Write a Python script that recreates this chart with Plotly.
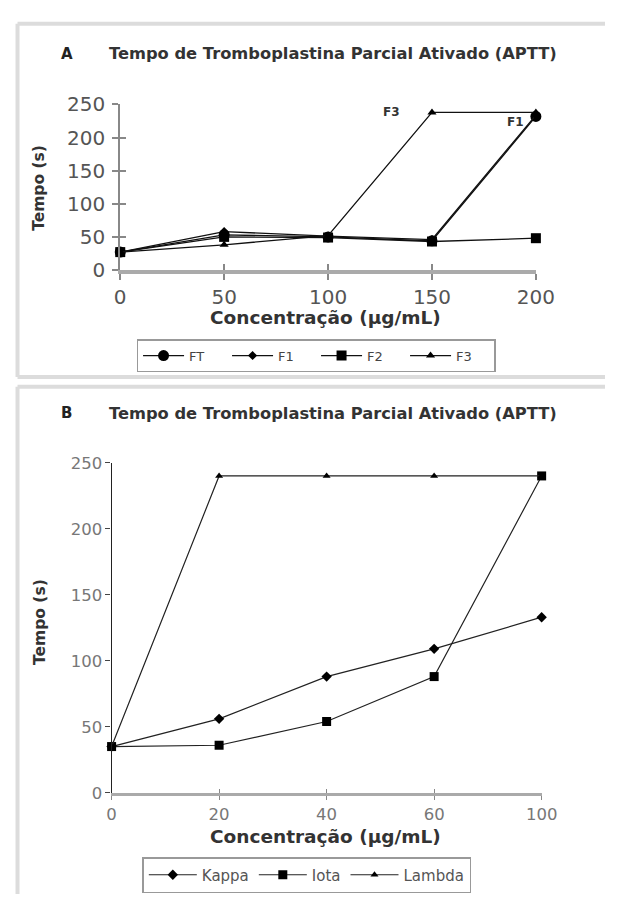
import plotly.graph_objects as go

# ---------------- data ----------------
conc_A = [0, 50, 100, 150, 200]
ft = [27, 53, 50, 44, 232]
f1 = [27, 58, 51, 46, 234]
f2 = [27, 50, 49, 43, 48]
f3 = [27, 38, 52, 238, 238]

conc_B = ["0", "20", "40", "60", "100"]
kappa = [35, 56, 88, 109, 133]
iota = [35, 36, 54, 88, 240]
lam = [35, 240, 240, 240, 240]

ticks_A_y = [0, 50, 100, 150, 200, 250]
ticks_A_x = [0, 50, 100, 150, 200]
ticks_B_y = [0, 50, 100, 150, 200, 250]

title_txt = "Tempo de Tromboplastina Parcial Ativado (APTT)"
xtitle_txt = "Concentração (µg/mL)"
ytitle_txt = "Tempo (s)"

W, H = 624, 906
FONT = "DejaVu Sans"


def px(x):
    return x / W


def py(y):
    return 1 - y / H


fig = go.Figure()

lineA = dict(color="#111", width=1.3)
fig.add_trace(go.Scatter(x=conc_A, y=ft, name="FT", mode="lines+markers", line=lineA,
                         marker=dict(symbol="circle", size=11, color="#000"),
                         xaxis="x", yaxis="y", legend="legend", cliponaxis=False))
fig.add_trace(go.Scatter(x=conc_A, y=f1, name="F1", mode="lines+markers", line=lineA,
                         marker=dict(symbol="diamond", size=7, color="#000"),
                         xaxis="x", yaxis="y", legend="legend", cliponaxis=False))
fig.add_trace(go.Scatter(x=conc_A, y=f2, name="F2", mode="lines+markers", line=lineA,
                         marker=dict(symbol="square", size=10, color="#000"),
                         xaxis="x", yaxis="y", legend="legend", cliponaxis=False))
fig.add_trace(go.Scatter(x=conc_A, y=f3, name="F3", mode="lines+markers", line=lineA,
                         marker=dict(symbol="triangle-up", size=8, color="#000"),
                         xaxis="x", yaxis="y", legend="legend", cliponaxis=False))
fig.add_trace(go.Scatter(x=conc_A, y=[None] * len(conc_A), showlegend=False, hoverinfo="skip",
                         xaxis="x3", yaxis="y3"))

lineB = dict(color="#222", width=1.2)
fig.add_trace(go.Scatter(x=conc_B, y=kappa, name="Kappa", mode="lines+markers", line=lineB,
                         marker=dict(symbol="diamond", size=8, color="#000"),
                         xaxis="x2", yaxis="y2", legend="legend2", cliponaxis=False))
fig.add_trace(go.Scatter(x=conc_B, y=iota, name="Iota", mode="lines+markers", line=lineB,
                         marker=dict(symbol="square", size=9, color="#000"),
                         xaxis="x2", yaxis="y2", legend="legend2", cliponaxis=False))
fig.add_trace(go.Scatter(x=conc_B, y=lam, name="Lambda", mode="lines+markers", line=lineB,
                         marker=dict(symbol="triangle-up", size=7, color="#000"),
                         xaxis="x2", yaxis="y2", legend="legend2", cliponaxis=False))
fig.add_trace(go.Scatter(x=conc_B, y=[None] * len(conc_B), showlegend=False, hoverinfo="skip",
                         xaxis="x4", yaxis="y4"))

domA_x = [px(119), px(552)]
domA_y = [py(265), py(95)]
domB_x = [px(110), px(558)]
domB_y = [py(802), py(463)]

tickA = dict(family=FONT, size=20, color="#555")
tickB = dict(family=FONT, size=16.5, color="#777")

fig.update_layout(
    width=W, height=H, autosize=False, hovermode=False,
    margin=dict(l=0, r=0, t=0, b=0),
    paper_bgcolor="white", plot_bgcolor="rgba(0,0,0,0)",
    font=dict(family=FONT, color="#333"),
    xaxis=dict(domain=domA_x, anchor="y", range=[0, 200], tickvals=ticks_A_x,
               showgrid=False, zeroline=False, showline=True, linecolor="#aaa", linewidth=4,
               ticks="outside", ticklen=6, tickcolor="#888", tickwidth=1.5,
               tickfont=tickA, fixedrange=True),
    yaxis=dict(domain=domA_y, anchor="x", range=[0, 250], tickvals=ticks_A_y,
               showgrid=False, zeroline=False, showline=True, linecolor="#888", linewidth=2,
               ticks="outside", ticklen=6, tickcolor="#888", tickwidth=1.5,
               ticklabelstandoff=3, tickfont=tickA, fixedrange=True),
    xaxis3=dict(domain=domA_x, anchor="y3", overlaying="x", range=[0, 200], tickvals=ticks_A_x,
                showgrid=False, zeroline=False, showline=False, showticklabels=False,
                ticks="inside", ticklen=6, tickcolor="#888", tickwidth=1.5),
    yaxis3=dict(domain=domA_y, anchor="x3", overlaying="y", range=[0, 250], tickvals=ticks_A_y,
                showgrid=False, zeroline=False, showline=False, showticklabels=False,
                ticks="inside", ticklen=6, tickcolor="#888", tickwidth=1.5),
    xaxis2=dict(domain=domB_x, anchor="y2", type="category", categoryarray=conc_B,
                range=[0, len(conc_B) - 1],
                showgrid=False, zeroline=False, showline=True, linecolor="#aaa", linewidth=3,
                ticks="outside", ticklen=4, tickcolor="#888", tickwidth=1.2,
                tickfont=tickB, fixedrange=True),
    yaxis2=dict(domain=domB_y, anchor="x2", range=[0, 250], tickvals=ticks_B_y,
                showgrid=False, zeroline=False, showline=True, linecolor="#222", linewidth=1.3,
                ticks="outside", ticklen=5, tickcolor="#444", tickwidth=1.2,
                tickfont=tickB, fixedrange=True),
    xaxis4=dict(domain=domB_x, anchor="y4", overlaying="x2", type="category", categoryarray=conc_B,
                range=[0, len(conc_B) - 1],
                showgrid=False, zeroline=False, showline=False, showticklabels=False,
                ticks="inside", ticklen=4, tickcolor="#888", tickwidth=1.2),
    yaxis4=dict(domain=domB_y, anchor="x4", overlaying="y2", range=[0, 250],
                showgrid=False, zeroline=False, showline=False, showticklabels=False,
                ticks=""),
    legend=dict(orientation="h", x=px(136), y=py(336), xanchor="left", yanchor="top",
                bordercolor="#999", borderwidth=1.5, bgcolor="white",
                font=dict(family=FONT, size=13, color="#444"),
                itemwidth=41, tracegroupgap=0, entrywidth=33, entrywidthmode="pixels"),
    legend2=dict(orientation="h", x=px(142), y=py(868), xanchor="left", yanchor="top",
                 bordercolor="#999", borderwidth=1.5, bgcolor="white",
                 font=dict(family=FONT, size=15, color="#555"),
                 itemwidth=48, tracegroupgap=0),
    showlegend=True,
)

fr = dict(type="line", xref="paper", yref="paper", line=dict(color="#dcdcdc", width=4),
          layer="below")
fig.add_shape(x0=px(12), x1=1, y0=py(12), y1=py(12), **fr)
fig.add_shape(x0=px(12), x1=px(12), y0=py(12), y1=py(375), **fr)
fig.add_shape(x0=px(12), x1=1, y0=py(375), y1=py(375), **fr)
fig.add_shape(x0=px(12), x1=1, y0=py(385), y1=py(385), **fr)
fig.add_shape(x0=px(12), x1=px(12), y0=py(385), y1=0, **fr)

ann = []
for lbl, ytop in (("A", 43), ("B", 412)):
    ann.append(dict(text=lbl, x=px(55), y=py(ytop), xref="paper", yref="paper",
                    xanchor="left", yanchor="middle", showarrow=False,
                    font=dict(family=FONT, size=15, color="#222", weight="bold")))
    ann.append(dict(text=title_txt, x=px(105), y=py(ytop), xref="paper", yref="paper",
                    xanchor="left", yanchor="middle", showarrow=False,
                    font=dict(family=FONT, size=16.3, color="#333", weight="bold")))

ann.append(dict(text=xtitle_txt, x=px(333), y=py(314), xref="paper", yref="paper",
                xanchor="center", yanchor="middle", showarrow=False,
                font=dict(family=FONT, size=18.5, color="#333", weight="bold")))
ann.append(dict(text=xtitle_txt, x=px(333), y=py(847), xref="paper", yref="paper",
                xanchor="center", yanchor="middle", showarrow=False,
                font=dict(family=FONT, size=18.5, color="#333", weight="bold")))
ann.append(dict(text=ytitle_txt, x=px(35), y=py(181), xref="paper", yref="paper",
                xanchor="center", yanchor="middle", showarrow=False, textangle=-90,
                font=dict(family=FONT, size=15.5, color="#333", weight="bold")))
ann.append(dict(text=ytitle_txt, x=px(36), y=py(627), xref="paper", yref="paper",
                xanchor="center", yanchor="middle", showarrow=False, textangle=-90,
                font=dict(family=FONT, size=15.5, color="#333", weight="bold")))

ann.append(dict(text="F3", x=conc_A[3], y=f3[3], xref="x", yref="y", xanchor="right",
                yanchor="middle", xshift=-30, showarrow=False,
                font=dict(family=FONT, size=12, color="#333", weight="bold")))
ann.append(dict(text="F1", x=conc_A[4], y=f1[4], xref="x", yref="y", xanchor="right",
                yanchor="middle", xshift=-10, yshift=-7, showarrow=False,
                font=dict(family=FONT, size=12, color="#333", weight="bold")))

fig.update_layout(annotations=ann)

fig.write_html("out.html", config={"displayModeBar": False},
               post_script="document.body.style.margin='0';document.body.style.overflow='hidden';")
